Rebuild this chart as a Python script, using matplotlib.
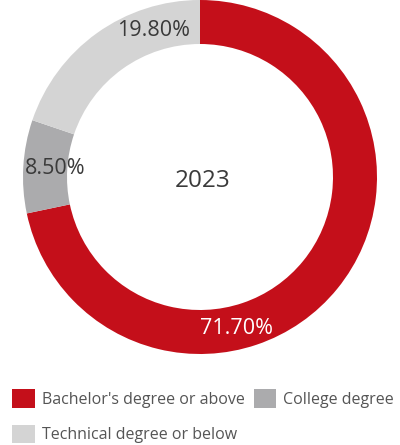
import numpy as np
import matplotlib
matplotlib.use("Agg")
import matplotlib.pyplot as plt
from matplotlib.patches import Patch

plt.rcParams["font.family"] = ["Open Sans", "DejaVu Sans"]

# data
categories = ["Bachelor's degree or above", "College degree", "Technical degree or below"]
shares = [71.7, 8.5, 19.8]
share_labels = ["71.70%", "8.50%", "19.80%"]
year = "2023"

colors = ["#C40F1A", "#ABABAD", "#D4D4D4"]
label_colors = ["white", "#3a3a3a", "#3a3a3a"]

# label placement: angle clockwise from top (deg), distance from centre (px)
label_angles = [166.3, 273.5, 342.3]
label_radii = [156, 145, 154]

fig = plt.figure(figsize=(4.0, 4.45), dpi=100)
ax = fig.add_axes([0, 0, 1, 1])

cx, cy, R = 200, 268, 177
ax.pie(
    shares,
    colors=colors,
    startangle=90,
    counterclock=False,
    center=(cx, cy),
    radius=R,
    wedgeprops=dict(width=44, linewidth=0),
    frame=True,
)
ax.set_xlim(0, 400)
ax.set_ylim(0, 445)
ax.axis("off")

for lab, ang, r, c in zip(share_labels, label_angles, label_radii, label_colors):
    t = np.deg2rad(ang)
    ax.text(cx + r * np.sin(t), cy + r * np.cos(t), lab, ha="center", va="center",
            fontsize=15.5, color=c)

ax.text(cx + 3, cy - 4, year, ha="center", va="center", fontsize=17.5, color="#3a3a3a")

handles = [Patch(facecolor=c, edgecolor="none") for c in colors]
# order so rows read: Bachelor / College, then Technical
order = [0, 2, 1]
fig.legend(
    [handles[i] for i in order],
    [categories[i] for i in order],
    loc="upper left",
    bbox_to_anchor=(-0.005, 1 - 375 / 445),
    ncol=2,
    frameon=False,
    fontsize=11.5,
    labelcolor="#555555",
    handlelength=1.4,
    handleheight=1.4,
    handletextpad=0.45,
    columnspacing=0.55,
    labelspacing=1.05,
    borderpad=0.4,
)

fig.savefig("out.png", dpi=100)
